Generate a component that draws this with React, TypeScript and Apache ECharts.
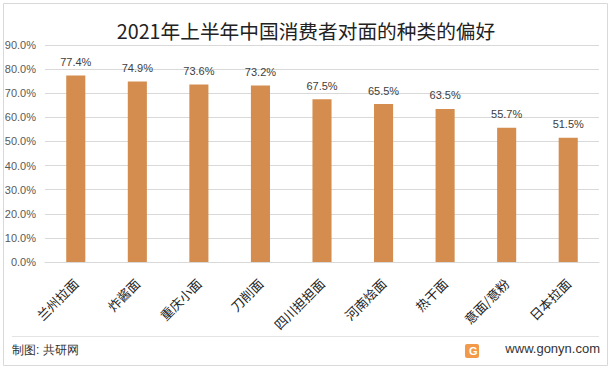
import React, { useEffect, useRef } from "react";
import * as echarts from "echarts";

const categories = ["兰州拉面", "炸酱面", "重庆小面", "刀削面", "四川担担面", "河南烩面", "热干面", "意面/意粉", "日本拉面"];
const values = [77.4, 74.9, 73.6, 73.2, 67.5, 65.5, 63.5, 55.7, 51.5];
const titleText = "2021年上半年中国消费者对面的种类的偏好";
const sourceText = "制图: 共研网";
const siteText = "www.gonyn.com";

export default function App() {
  const ref = useRef<HTMLDivElement>(null);
  useEffect(() => {
    if (!ref.current) return;
    const chart = echarts.init(ref.current, null, { renderer: "svg" });
    const font = "'Noto Sans CJK SC', 'Noto Sans', sans-serif";
    chart.setOption({
      animation: false,
      backgroundColor: "#ffffff",
      textStyle: { fontFamily: font },
      title: {
        text: titleText,
        left: "center",
        top: 16,
        textStyle: { fontSize: 19.7, fontWeight: "normal", color: "#222222", fontFamily: font },
      },
      grid: { left: 45, right: 13, top: 45, bottom: 108 },
      xAxis: {
        type: "category",
        data: categories,
        axisLine: { lineStyle: { color: "#d9d9d9" } },
        axisTick: { show: false },
        axisLabel: { rotate: 45, fontSize: 13, color: "#222222", margin: 19, interval: 0, fontFamily: font },
      },
      yAxis: {
        type: "value",
        min: 0,
        max: 90,
        interval: 10,
        axisLine: { show: false },
        axisTick: { show: false },
        splitLine: { lineStyle: { color: "#d9d9d9" } },
        axisLabel: {
          formatter: (v: number) => v.toFixed(1) + "%",
          fontSize: 11,
          color: "#595959",
          margin: 9,
          fontFamily: "'Liberation Sans', Arial, sans-serif",
        },
      },
      series: [
        {
          type: "bar",
          data: values,
          barWidth: "31%",
          itemStyle: { color: "#d48d4e" },
          label: {
            show: true,
            position: "top",
            distance: 8,
            formatter: (p: any) => p.value.toFixed(1) + "%",
            fontSize: 11,
            color: "#404040",
            fontFamily: "'Liberation Sans', Arial, sans-serif",
          },
        },
      ],
      graphic: [
        {
          type: "rect",
          shape: { x: 3.5, y: 3.5, width: 604, height: 362 },
          style: { fill: "none", stroke: "#d9d9d9", lineWidth: 1 },
        },
        {
          type: "line",
          shape: { x1: 12, y1: 336.5, x2: 599, y2: 336.5 },
          style: { stroke: "#e3e3e3", lineWidth: 1 },
        },
        {
          type: "text",
          left: 12,
          top: 344,
          style: { text: sourceText, fontSize: 12, fill: "#333333", font: "12px " + font },
        },
        {
          type: "rect",
          shape: { x: 465, y: 344, width: 14, height: 14, r: 2 },
          style: { fill: "#f29a4a" },
        },
        {
          type: "text",
          left: 469,
          top: 345,
          style: { text: "G", fontSize: 11, fontWeight: "bold", fill: "#ffffff", font: "bold 11px 'Liberation Sans', sans-serif" },
        },
        {
          type: "text",
          right: 12,
          top: 342,
          style: { text: siteText, fontSize: 13, fill: "#333333", font: "13px 'Noto Sans', sans-serif" },
        },
      ],
    });
    return () => chart.dispose();
  }, []);
  return <div ref={ref} style={{ position: "fixed", left: 0, top: 0, width: 612, height: 370 }} />;
}
